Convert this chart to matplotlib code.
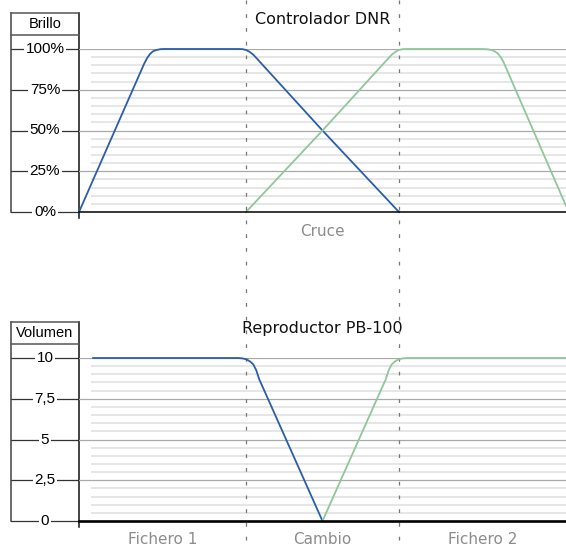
import matplotlib
matplotlib.use("Agg")
import matplotlib.pyplot as plt
from matplotlib.transforms import blended_transform_factory as mezcla

# Datos (eje x: 0..100 del ancho del área de trazado)
limites = [34.3, 65.7]  # líneas discontinuas verticales

brillo_ticks = [0, 25, 50, 75, 100]
brillo_etiquetas = ["0%", "25%", "50%", "75%", "100%"]
volumen_ticks = [0, 2.5, 5, 7.5, 10]
volumen_etiquetas = ["0", "2,5", "5", "7,5", "10"]

brillo1_x = [0, 13.4, 14.0, 14.6, 15.2, 15.9, 16.7, 17.5,
             32.8, 33.6, 34.3, 35.0, 35.8, 50, 65.7]
brillo1_y = [0, 91.1, 94.5, 97.0, 98.6, 99.4, 99.9, 100,
             100, 99.9, 99.4, 98.3, 96.5, 50, 0]
brillo2_x = [34.3, 50, 64.2, 65.0, 65.7, 66.4, 67.2,
             83.0, 84.0, 84.8, 85.4, 86.0, 86.6, 87.2, 100]
brillo2_y = [0, 50, 96.5, 98.3, 99.4, 99.9, 100,
             100, 99.8, 99.3, 98.5, 97.2, 95.0, 91.8, 3.8]

volumen1_x = [2.9, 32.7, 33.7, 34.5, 35.2, 35.8, 36.4, 37.0, 50]
volumen1_y = [10, 10, 9.97, 9.9, 9.77, 9.6, 9.25, 8.7, 0]
volumen2_x = [50, 63.0, 63.6, 64.2, 64.8, 65.5, 66.3, 67.3, 100]
volumen2_y = [0, 8.7, 9.25, 9.6, 9.77, 9.9, 9.97, 10, 10]

azul = "#2b5ea8"
verde = "#8fc79b"
gris_texto = "#8c8c8c"

W, H = 566, 550
fig = plt.figure(figsize=(W / 100, H / 100), dpi=100)

# ejes de fondo en píxeles para los adornos
bg = fig.add_axes([0, 0, 1, 1])
bg.set_xlim(0, W)
bg.set_ylim(H, 0)
bg.axis("off")


def panel(y_arriba, y_abajo, ymax, ticks, etiquetas, menor, nombre, titulo, base_lw):
    ax = fig.add_axes([79 / W, 1 - y_abajo / H, 487 / W, (y_abajo - y_arriba) / H])
    ax.set_xlim(0, 100)
    ax.set_ylim(0, ymax)
    ax.patch.set_alpha(0)
    for s in ["top", "right", "left"]:
        ax.spines[s].set_visible(False)
    ax.spines["bottom"].set_linewidth(base_lw)
    ax.spines["bottom"].set_zorder(5)
    ax.set_xticks([])
    ax.set_yticks([])

    # rejilla
    y = 0
    while y < ymax - 1e-9:
        for k in range(1, 5):
            ax.hlines(y + k * menor, 2.5, 100, color="#e4e4e4", lw=1.3, zorder=1)
        y += menor * 5
    for t in ticks[1:]:
        ax.axhline(t, color="#a9a9a9", lw=0.9, zorder=2)

    # eje izquierdo con caja del nombre
    pos = mezcla(bg.transData, ax.transData)
    for t, et in zip(ticks, etiquetas):
        bg.plot([11, 79], [t, t], color="#333333", lw=0.9, transform=pos,
                clip_on=False, zorder=2)
        bg.text(45, t, et, transform=pos, ha="center", va="center",
                fontsize=11, family="Liberation Sans", zorder=4,
                bbox=dict(boxstyle="square,pad=0.12", fc="white", ec="none"))
    y0 = y_abajo
    bg.plot([11, 11], [y_arriba - 36, y0], color="#444444", lw=1.1, zorder=2)
    bg.plot([79, 79], [y_arriba - 36, y0 + 6], color="#111111", lw=1.1, zorder=2)
    bg.plot([11, 79], [y_arriba - 36, y_arriba - 36], color="#555555", lw=1.1, zorder=2)
    bg.plot([11, 79], [y_arriba - 14, y_arriba - 14], color="#555555", lw=1.1, zorder=2)
    bg.text(45, y_arriba - 25, nombre, ha="center", va="center", fontsize=10.5,
            family="Liberation Sans", zorder=4)

    # título
    trans = mezcla(ax.transData, bg.transData)
    bg.text(50, y_arriba - 29, titulo, transform=trans, ha="center", va="center",
            fontsize=11.5, family="DejaVu Sans", color="#111111")
    return ax


ax1 = panel(49, 212, 100, brillo_ticks, brillo_etiquetas, 5, "Brillo",
            "Controlador DNR", 1.1)
ax2 = panel(358, 521, 10, volumen_ticks, volumen_etiquetas, 0.5, "Volumen",
            "Reproductor PB-100", 1.9)

ax1.plot(brillo1_x, brillo1_y, color=azul, lw=1.3, clip_on=False, zorder=4)
ax1.plot(brillo2_x, brillo2_y, color=verde, lw=1.3, clip_on=False, zorder=4)
ax2.plot(volumen1_x, volumen1_y, color=azul, lw=1.3, clip_on=False, zorder=4)
ax2.plot(volumen2_x, volumen2_y, color=verde, lw=1.3, clip_on=False, zorder=4)

# líneas discontinuas verticales que cruzan ambos gráficos (encima de la rejilla)
tr = mezcla(ax1.transData, bg.transData)
tr2 = mezcla(ax2.transData, bg.transData)
for x in limites:
    ax2.plot([x, x], [0, H], color="#777777", lw=0.9, linestyle=(0, (3, 8)),
             transform=tr2, clip_on=False, zorder=3)

# etiquetas de las fases
bg.text(50, 231, "Cruce", transform=tr, ha="center", va="center",
        fontsize=11, color=gris_texto)
fases = ["Fichero 1", "Cambio", "Fichero 2"]
bordes = [0] + limites + [100]
for i, f in enumerate(fases):
    bg.text((bordes[i] + bordes[i + 1]) / 2, 540, f, transform=tr, ha="center",
            va="center", fontsize=11, color=gris_texto)

fig.savefig("out.png", dpi=100)
